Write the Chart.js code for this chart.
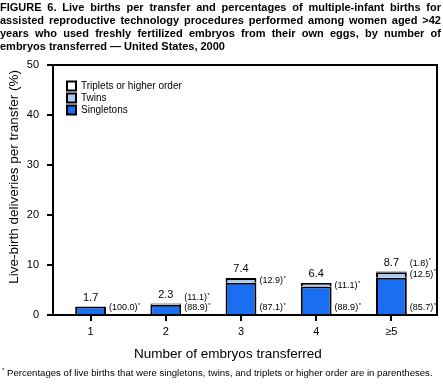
<!DOCTYPE html>
<html>
<head>
<meta charset="utf-8">
<script src="https://cdn.jsdelivr.net/npm/chart.js@4/dist/chart.umd.min.js"></script>
<style>
  html, body { margin: 0; padding: 0; background: #fff; }
  #wrap { position: relative; width: 443px; height: 386px; overflow: hidden; }
  #myChart { position: absolute; left: 0; top: 0; }
  .ttl { position: absolute; left: 0; width: 441px; font: bold 11px "Liberation Sans", Arial, sans-serif;
         line-height: 13px; white-space: nowrap; color: #000; }
  .just { text-align: justify; text-align-last: justify; }
  #foot { position: absolute; left: 2px; top: 367px; font: 9.6px "Liberation Sans", Arial, sans-serif; color: #000; white-space: nowrap; }
  #foot sup { font-size: 6px; }
</style>
</head>
<body>
<div id="wrap">
  <canvas id="myChart" width="443" height="386"></canvas>
  <div class="ttl just" style="top:1px">FIGURE 6. Live births per transfer and percentages of multiple-infant births for</div>
  <div class="ttl just" style="top:14px">assisted reproductive technology procedures performed among women aged &gt;42</div>
  <div class="ttl just" style="top:27px">years who used freshly fertilized embryos from their own eggs, by number of</div>
  <div class="ttl" style="top:40px">embryos transferred — United States, 2000</div>
  <div id="foot"><sup>*</sup> Percentages of live births that were singletons, twins, and triplets or higher order are in parentheses.</div>
</div>
<script>
// embryos transferred
const categories = ['1', '2', '3', '4', '\u22655'];
// live-birth deliveries per transfer (%)
const totals = [1.7, 2.3, 7.4, 6.4, 8.7];
// share of live births (%) -- shown in parentheses
const singletonPct = [100.0, 88.9, 87.1, 88.9, 85.7];
const twinPct = [null, 11.1, 12.9, 11.1, 12.5];
const tripletPct = [null, null, null, null, 1.8];
const yTicks = [0, 10, 20, 30, 40, 50];

// stacked heights: part of each total that the share stands for
const part = (pct) => pct.map((p, i) => p == null ? null : totals[i] * p / 100);

const font = '"Liberation Sans", Arial, sans-serif';

const frame = {
  id: 'frame',
  afterLayout(chart) {
    // put the legend inside the plot, top left
    const lg = chart.legend, a = chart.chartArea;
    if (lg) {
      const w = lg.width, h = lg.height;
      lg.left = a.left + 12;
      lg.top = a.top + 14;
      lg.right = lg.left + w;
      lg.bottom = lg.top + h;
    }
  },
  afterDraw(chart) {
    const { ctx, chartArea: a } = chart;
    const r = a.right + 8;
    ctx.save();
    ctx.strokeStyle = '#000';
    ctx.lineWidth = 2;
    ctx.beginPath();
    ctx.moveTo(a.left - 1, a.top);
    ctx.lineTo(r, a.top);
    ctx.lineTo(r, a.bottom);
    ctx.lineTo(a.right - 2, a.bottom);
    ctx.stroke();
    ctx.restore();
  }
};

const labels = {
  id: 'labels',
  afterDatasetsDraw(chart) {
    const { ctx, scales: { x, y } } = chart;
    const meta = chart.getDatasetMeta(0);
    ctx.save();
    ctx.fillStyle = '#000';
    const pctText = (v, px, py) => {
      ctx.font = '9px ' + font;
      ctx.textAlign = 'left';
      ctx.textBaseline = 'middle';
      const s = '(' + v.toFixed(1) + ')';
      ctx.fillText(s, px, py);
      const w = ctx.measureText(s).width;
      ctx.font = '6px ' + font;
      ctx.fillText('*', px + w + 0.5, py - 3);
    };
    totals.forEach((t, i) => {
      const cx = x.getPixelForValue(i);
      const half = meta.data[i].width / 2;
      const top = y.getPixelForValue(t);
      const bottom = y.getPixelForValue(0);
      ctx.font = '11px ' + font;
      ctx.textAlign = 'center';
      ctx.textBaseline = 'middle';
      ctx.fillText(t.toFixed(1), cx, top - 9);
      const px = cx + half + 3;
      const sy = bottom - 7;
      pctText(singletonPct[i], px, sy);
      if (twinPct[i] != null) pctText(twinPct[i], px, Math.min(top + 3, sy - 10));
      if (tripletPct[i] != null) pctText(tripletPct[i], px, top - 8);
    });
    ctx.restore();
  }
};

const data = {
  labels: categories,
  datasets: [
    {
      label: 'Singletons',
      data: part(singletonPct),
      backgroundColor: '#1a6ef2',
      borderColor: '#000',
      borderWidth: 2,
    },
    {
      label: 'Twins',
      data: part(twinPct),
      backgroundColor: '#abc9f1',
      borderColor: '#000',
      borderWidth: 2,
    },
    {
      label: 'Triplets or higher order',
      data: part(tripletPct),
      backgroundColor: '#ffffff',
      borderColor: '#000',
      borderWidth: 2,
    }
  ]
};

const config = {
  type: 'bar',
  data: data,
  options: {
    responsive: false,
    animation: false,
    events: [],
    layout: {
      padding: { top: 65, left: 0, right: 14, bottom: 22 }
    },
    datasets: {
      bar: { barPercentage: 0.41, categoryPercentage: 1 }
    },
    scales: {
      x: {
        stacked: true,
        afterFit: (s) => { s.height = 49; },
        border: { color: '#000', width: 2 },
        grid: { display: true, drawOnChartArea: false, color: '#000', lineWidth: 2, tickLength: 6, offset: false },
        ticks: { color: '#000', font: { family: font, size: 11 }, padding: 4 },
        title: {
          display: true,
          text: 'Number of embryos transferred' + '       ',
          color: '#000',
          font: { family: font, size: 13.5 },
          padding: { top: 0, bottom: 2 }
        }
      },
      y: {
        stacked: true,
        min: 0,
        max: 50,
        afterFit: (s) => { s.width = 53; },
        afterBuildTicks: (s) => { s.ticks = yTicks.map(v => ({ value: v })); },
        border: { color: '#000', width: 2 },
        grid: { display: true, drawOnChartArea: false, color: '#000', lineWidth: 2, tickLength: 6 },
        ticks: { color: '#000', font: { family: font, size: 11 }, padding: 8 },
        title: {
          display: true,
          text: '       ' + 'Live-birth deliveries per transfer (%)',
          color: '#000',
          font: { family: font, size: 13.5 },
          padding: { top: 6, bottom: 0 }
        }
      }
    },
    plugins: {
      legend: {
        position: 'chartArea',
        align: 'start',
        reverse: true,
        labels: {
          color: '#000',
          font: { family: font, size: 10 },
          boxWidth: 9,
          boxHeight: 9,
          padding: 2
        }
      },
      title: { display: false },
      tooltip: { enabled: false }
    }
  },
  plugins: [frame, labels]
};

var ctx = document.getElementById('myChart').getContext('2d');
var chart = new Chart(ctx, config);
</script>
</body>
</html>
